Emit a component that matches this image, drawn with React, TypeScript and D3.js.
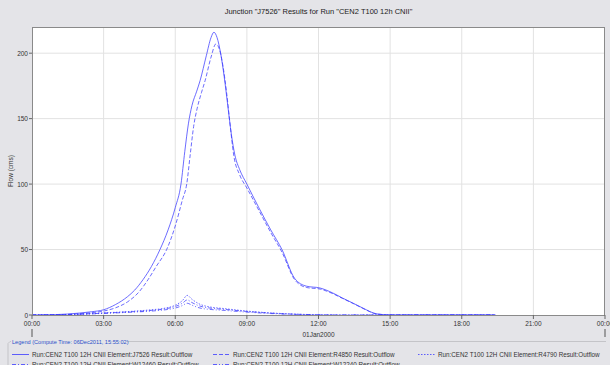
import { useRef, useEffect } from "react";
import * as d3 from "d3";

// hours since 01Jan2000 00:00 and flow (cms)
const hoursJ7526 = [0, 1, 2, 2.5, 3, 3.5, 4, 4.3, 4.65, 5, 5.36, 5.7, 6, 6.24, 6.4, 6.55, 6.7, 6.9, 7.04, 7.3, 7.5, 7.62, 7.75, 7.9, 8.05, 8.2, 8.35, 8.5, 8.7, 9, 9.5, 10, 10.47, 11, 11.5, 12.07, 12.6, 13, 13.45, 14, 14.3, 14.7, 15, 19.4];
const flowJ7526 = [0, 0.3, 1.5, 2.5, 4, 8, 14, 19, 27, 37, 50, 65, 82, 100, 125, 146, 160, 171, 179, 198, 212, 216, 212, 200, 182, 160, 138, 122, 111, 100, 82, 65, 50, 28, 22, 20.6, 16.8, 13, 9, 4, 1.5, 0.3, 0, 0];

const hoursR4850 = [0, 1, 2, 2.5, 3, 3.5, 4, 4.5, 4.86, 5.2, 5.64, 6, 6.3, 6.48, 6.63, 6.77, 6.92, 7.1, 7.25, 7.5, 7.7, 7.85, 8.0, 8.15, 8.3, 8.45, 8.7, 9, 9.5, 10, 10.47, 11, 11.5, 12.07, 12.6, 13, 13.45, 14, 14.3, 14.7, 15, 19.4];
const flowR4850 = [0, 0.2, 1, 1.8, 3, 5.5, 10, 18, 27, 37, 50, 68, 88, 100, 123, 144, 158, 170, 179, 197, 207, 203, 190, 170, 145, 122, 107, 97, 80, 63, 48, 27, 21, 19.8, 16.3, 12.7, 8.8, 3.8, 1.4, 0.3, 0, 0];

const hoursSmall = [0, 1, 2, 3, 4, 5, 5.5, 6, 6.3, 6.5, 6.7, 7, 7.5, 8, 9, 10, 11, 12, 13, 19.4];
const flowR4790 = [0, 0.1, 0.7, 1.6, 2.6, 4, 5, 7.5, 11, 15, 12, 8.5, 6, 5, 3, 1.6, 0.7, 0.2, 0, 0];
const flowW12460 = [0, 0.1, 0.6, 1.4, 2.3, 3.5, 4.5, 6.5, 9, 11.5, 9.5, 7, 5.2, 4.4, 2.7, 1.4, 0.6, 0.2, 0, 0];
const flowW12240 = [0, 0.1, 0.5, 1.2, 2, 3, 3.8, 5.3, 7.2, 9, 7.5, 5.5, 4.2, 3.6, 2.2, 1.1, 0.5, 0.1, 0, 0];

const yTicks = [0, 50, 100, 150, 200];

const seriesList = [
  { name: "Run:CEN2 T100 12H CNII Element:J7526 Result:Outflow", hours: hoursJ7526, flow: flowJ7526, dash: null },
  { name: "Run:CEN2 T100 12H CNII Element:R4850 Result:Outflow", hours: hoursR4850, flow: flowR4850, dash: "4,2" },
  { name: "Run:CEN2 T100 12H CNII Element:R4790 Result:Outflow", hours: hoursSmall, flow: flowR4790, dash: "1.5,1.5" },
  { name: "Run:CEN2 T100 12H CNII Element:W12460 Result:Outflow", hours: hoursSmall, flow: flowW12460, dash: "4,2,1,2" },
  { name: "Run:CEN2 T100 12H CNII Element:W12240 Result:Outflow", hours: hoursSmall, flow: flowW12240, dash: "4,2,1,2,1,2" },
];

const FONT = "'Liberation Sans', Arial, sans-serif";
const LINE = "#3b3bff";

export default function App() {
  const svgRef = useRef<SVGSVGElement>(null);

  useEffect(() => {
    const width = 610;
    const height = 365;
    const left = 32, right = 605, top = 27, bottom = 315;

    const svg = d3.select(svgRef.current);
    svg.selectAll("*").remove();

    svg.append("rect").attr("width", width).attr("height", height).attr("fill", "#e4e4e8");

    svg.append("text")
      .attr("x", (left + right) / 2)
      .attr("y", 14)
      .attr("text-anchor", "middle")
      .attr("font-size", "7.5px")
      .attr("font-family", FONT)
      .attr("fill", "#222")
      .text('Junction "J7526" Results for Run "CEN2 T100 12h CNII"');

    const t0 = Date.UTC(2000, 0, 1);
    const toDate = (h: number) => new Date(t0 + h * 3600000);
    const x = d3.scaleUtc().domain([toDate(0), toDate(24)]).range([left, right]);
    const y = d3.scaleLinear().domain([0, 220]).range([bottom, top]);

    svg.append("rect")
      .attr("x", left).attr("y", top)
      .attr("width", right - left).attr("height", bottom - top)
      .attr("fill", "#fff");

    const xTicks = d3.range(0, 25, 3).map(toDate);

    // grid
    svg.append("g")
      .selectAll("line")
      .data(xTicks.slice(1, -1))
      .enter()
      .append("line")
      .attr("x1", (d) => x(d)).attr("x2", (d) => x(d))
      .attr("y1", top).attr("y2", bottom)
      .attr("stroke", "#e2e2e2");
    svg.append("g")
      .selectAll("line")
      .data(yTicks.slice(1))
      .enter()
      .append("line")
      .attr("x1", left).attr("x2", right)
      .attr("y1", (d) => y(d)).attr("y2", (d) => y(d))
      .attr("stroke", "#e2e2e2");

    const line = d3.line<[number, number]>()
      .x((d) => x(toDate(d[0])))
      .y((d) => y(d[1]))
      .curve(d3.curveMonotoneX);

    seriesList.forEach((s) => {
      const pts = s.hours.map((h, i) => [h, s.flow[i]] as [number, number]);
      svg.append("path")
        .datum(pts)
        .attr("d", line)
        .attr("fill", "none")
        .attr("stroke", LINE)
        .attr("stroke-opacity", 0.75)
        .attr("stroke-width", 1)
        .attr("stroke-dasharray", s.dash);
    });

    // plot frame
    svg.append("rect")
      .attr("x", left + 0.5).attr("y", top + 0.5)
      .attr("width", right - left - 1).attr("height", bottom - top)
      .attr("fill", "none")
      .attr("stroke", "#8a8a8a");

    // y axis
    const yAxis = svg.append("g");
    yTicks.forEach((v) => {
      yAxis.append("line")
        .attr("x1", left - 3).attr("x2", left)
        .attr("y1", y(v)).attr("y2", y(v))
        .attr("stroke", "#666");
      yAxis.append("text")
        .attr("x", left - 4)
        .attr("y", y(v) + 2.5)
        .attr("text-anchor", "end")
        .attr("font-size", "6.5px")
        .attr("font-family", FONT)
        .attr("fill", "#333")
        .text(v);
    });
    svg.append("text")
      .attr("transform", `translate(13,${(top + bottom) / 2}) rotate(-90)`)
      .attr("text-anchor", "middle")
      .attr("font-size", "6.5px")
      .attr("font-family", FONT)
      .attr("fill", "#333")
      .text("Flow (cms)");

    // x axis
    const fmt = d3.utcFormat("%H:%M");
    const xAxis = svg.append("g");
    xTicks.forEach((d) => {
      xAxis.append("line")
        .attr("x1", x(d)).attr("x2", x(d))
        .attr("y1", bottom).attr("y2", bottom + 4)
        .attr("stroke", "#666");
      xAxis.append("text")
        .attr("x", x(d))
        .attr("y", bottom + 11)
        .attr("text-anchor", "middle")
        .attr("font-size", "6.5px")
        .attr("font-family", FONT)
        .attr("fill", "#333")
        .text(fmt(d));
    });
    [toDate(0), toDate(24)].forEach((d) => {
      xAxis.append("line")
        .attr("x1", x(d)).attr("x2", x(d))
        .attr("y1", bottom + 14).attr("y2", bottom + 22)
        .attr("stroke", "#555");
    });
    svg.append("text")
      .attr("x", x(toDate(12)))
      .attr("y", bottom + 22)
      .attr("text-anchor", "middle")
      .attr("font-size", "6.5px")
      .attr("font-family", FONT)
      .attr("fill", "#333")
      .text("01Jan2000");

    // legend
    const legTitle = "Legend (Compute Time: 06Dec2011, 15:55:02)";
    svg.append("path")
      .attr("d", "M8,366 L8,343.5 L10,341.5 L11,341.5 M127,341.5 L606,341.5")
      .attr("fill", "none")
      .attr("stroke", "#c4c4c8");
    svg.append("text")
      .attr("x", 12)
      .attr("y", 343.8)
      .attr("font-size", "5.6px")
      .attr("font-family", FONT)
      .attr("fill", "#2a50c8")
      .text(legTitle);

    const cols = [12, 213, 418];
    seriesList.forEach((s, i) => {
      const cx = cols[i % 3];
      const cy = 354.5 + Math.floor(i / 3) * 10;
      svg.append("line")
        .attr("x1", cx).attr("x2", cx + 17)
        .attr("y1", cy).attr("y2", cy)
        .attr("stroke", LINE)
        .attr("stroke-opacity", 0.8)
        .attr("stroke-dasharray", s.dash);
      svg.append("text")
        .attr("x", cx + 20)
        .attr("y", cy + 2.3)
        .attr("font-size", "6.3px")
        .attr("font-family", FONT)
        .attr("fill", "#333")
        .text(s.name);
    });
  }, []);

  return (
    <div style={{ position: "fixed", left: 0, top: 0 }}>
      <svg ref={svgRef} width={610} height={365} style={{ display: "block" }} />
    </div>
  );
}
